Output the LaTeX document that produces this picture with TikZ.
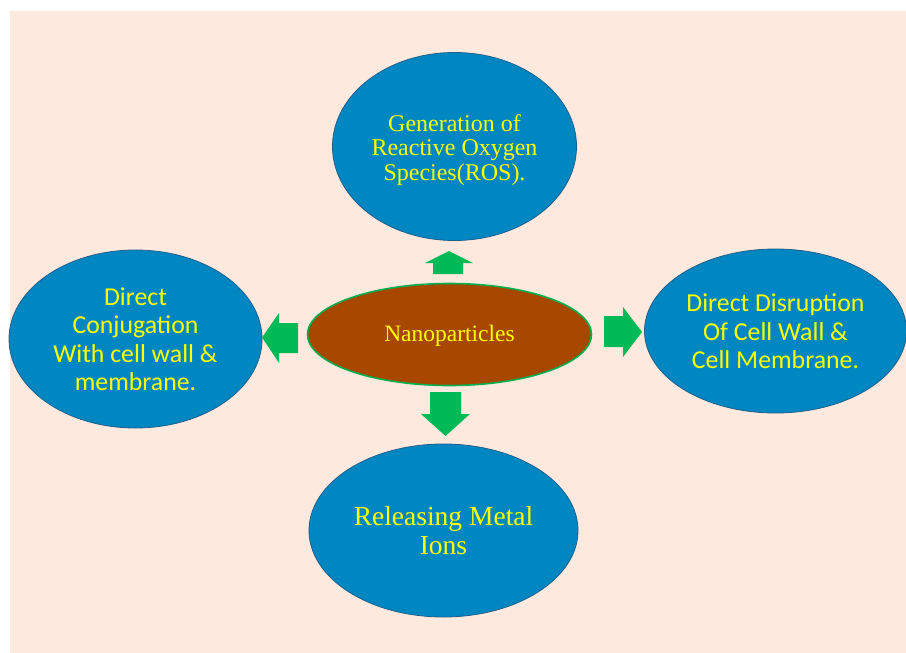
\documentclass[tikz,border=0pt]{standalone}
\usepackage{fontspec}
\setmainfont{Liberation Serif}
\newfontfamily\calib{Carlito}
\usetikzlibrary{shapes.geometric}
\definecolor{bgpeach}{HTML}{FDE9DE}
\definecolor{ovalblue}{HTML}{0087C1}
\definecolor{ovaledge}{HTML}{1E5F8C}
\definecolor{txtyellow}{HTML}{FFFF00}
\definecolor{npbrown}{HTML}{A84700}
\definecolor{npedge}{HTML}{00B050}
\definecolor{arrgreen}{HTML}{00BA58}
\tikzset{
  oval/.style={ellipse, fill=ovalblue, draw=ovaledge, line width=0.8pt, inner sep=0pt},
  ovaltext/.style={align=center, text=txtyellow, inner sep=0pt},
  serifbig/.style={font=\fontsize{24}{24.5}\selectfont},
  calibtext/.style={font=\calib\fontsize{25.8}{28.5}\selectfont},
  blockarrow/.style={fill=arrgreen, draw=none}
}
\begin{document}
\begin{tikzpicture}[x=1pt,y=-1pt]
\useasboundingbox (0,0) rectangle (906,653);
\fill[bgpeach] (10,11) rectangle (906,653);

\node[oval, minimum width=244pt, minimum height=188pt] (ros) at (454.5,146.5) {};
\node[ovaltext, serifbig, yshift=-3.5pt] (rostxt) at (ros) {Generation of\\Reactive Oxygen\\Species(ROS).};

\node[oval, minimum width=253pt, minimum height=178pt] (conj) at (135.5,339) {};
\node[ovaltext, calibtext] (conjtxt) at (conj) {Direct\\Conjugation\\With cell wall \&\\membrane.};

\node[oval, minimum width=262pt, minimum height=164pt] (disr) at (775.5,331) {};
\node[ovaltext, calibtext, yshift=-0.5pt] (disrtxt) at (disr) {Direct Disruption\\Of Cell Wall \&\\Cell Membrane.};

\node[oval, minimum width=269pt, minimum height=173pt] (ions) at (443.5,530.5) {};
\node[ovaltext, font=\fontsize{27.5}{29}\selectfont] (ionstxt) at (ions) {Releasing Metal\\Ions};

\node[ellipse, fill=npbrown, draw=npedge, line width=1.6pt, minimum width=284pt, minimum height=102pt,
  inner sep=0pt] (nano) at (449.5,334.5) {};
\node[ovaltext, font=\fontsize{23.5}{24}\selectfont, yshift=-1.5pt] (nanotxt) at (nano) {Nanoparticles};

% block arrows
\fill[blockarrow] (433,274) -- (433,263) -- (425,263) -- (449,251) -- (473,263) -- (463,263) -- (463,274) -- cycle;
\fill[blockarrow] (298,323) -- (279,323) -- (279,313) -- (262,337.5) -- (279,363) -- (279,353) -- (298,353) -- cycle;
\fill[blockarrow] (604,316) -- (623,316) -- (623,307) -- (642,332) -- (623,357) -- (623,347) -- (604,347) -- cycle;
\fill[blockarrow] (430,392) -- (461,392) -- (461,414) -- (470,414) -- (445.5,436) -- (421,414) -- (430,414) -- cycle;
\end{tikzpicture}
\end{document}
